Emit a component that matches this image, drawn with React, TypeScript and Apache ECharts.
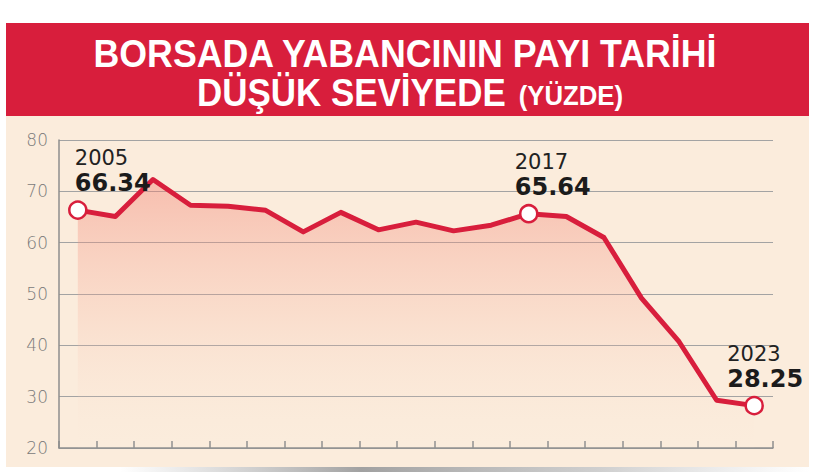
import React, { useEffect, useRef } from "react";
import * as echarts from "echarts";

const years = [
  "2005", "2006", "2007", "2008", "2009", "2010", "2011", "2012", "2013", "2014",
  "2015", "2016", "2017", "2018", "2019", "2020", "2021", "2022", "2023",
];
const foreignShare = [
  66.34, 65.1, 72.3, 67.3, 67.1, 66.3, 62.1, 65.9, 62.5, 64.0,
  62.3, 63.4, 65.64, 65.1, 61.0, 49.2, 40.7, 29.3, 28.25,
];
const highlightedYears = ["2005", "2017", "2023"];
const labelShift: Record<string, number> = { "2005": -3, "2017": -14, "2023": -27 };
const yMin = 20;
const yMax = 80;
const yStep = 10;
const titleLine1 = "BORSADA YABANCININ PAYI TARİHİ";
const titleLine2 = "DÜŞÜK SEVİYEDE";
const titleUnit = "(YÜZDE)";

const RED = "#d81e3c";
const BEIGE = "#fbecdc";
const TITLE_FONT = "'Liberation Sans', Arial, sans-serif";

export default function App() {
  const ref = useRef<HTMLDivElement>(null);

  useEffect(() => {
    if (!ref.current) return;
    const chart = echarts.init(ref.current, undefined, { renderer: "svg" });

    const data = years.map((y, i) => {
      const v = foreignShare[i];
      if (highlightedYears.includes(y)) {
        return {
          value: v,
          symbol: "circle",
          symbolSize: 17,
          label: {
            show: true,
            offset: [labelShift[y] ?? 0, 0],
            formatter: () => `{y|${y}}\n{v|${v.toFixed(2)}}`,
          },
        };
      }
      return { value: v };
    });

    chart.setOption({
      animation: false,
      grid: { left: 59, right: 47, top: 140, bottom: 27, containLabel: false },
      xAxis: {
        type: "category",
        data: years,
        boundaryGap: true,
        axisLine: { show: true, lineStyle: { color: "#8e8e8e", width: 1.5 } },
        axisTick: {
          show: true,
          inside: true,
          length: 7,
          interval: 0,
          alignWithLabel: false,
          lineStyle: { color: "#8e8e8e", width: 1.5 },
        },
        axisLabel: { show: false },
        splitLine: { show: false },
      },
      yAxis: {
        type: "value",
        min: yMin,
        max: yMax,
        interval: yStep,
        axisLine: { show: true, lineStyle: { color: "#8e8e8e", width: 1.5 } },
        axisTick: { show: false },
        axisLabel: {
          color: "#7a7a7a",
          fontSize: 17,
          fontFamily: "'DejaVu Sans', sans-serif",
          fontWeight: 200,
          margin: 11,
          padding: [6, 0, 0, 0],
        },
        splitLine: { show: true, lineStyle: { color: "#a3a3a3", width: 1 } },
      },
      series: [
        {
          type: "line",
          data,
          symbol: "none",
          showAllSymbol: true,
          z: 3,
          lineStyle: { color: RED, width: 5, cap: "round", join: "round" },
          itemStyle: { color: "#ffffff", borderColor: RED, borderWidth: 2.5 },
          areaStyle: {
            color: new echarts.graphic.LinearGradient(0, 0, 0, 1, [
              { offset: 0, color: "rgba(242,125,110,0.6)" },
              { offset: 0.5, color: "rgba(246,170,150,0.32)" },
              { offset: 1, color: "rgba(251,236,220,0.05)" },
            ]),
          },
          label: {
            show: false,
            position: "top",
            distance: 4,
            align: "left",
            verticalAlign: "bottom",
            rich: {
              y: {
                fontSize: 21,
                lineHeight: 24,
                color: "#222222",
                fontFamily: "'DejaVu Sans', sans-serif",
              },
              v: {
                fontSize: 24,
                lineHeight: 26,
                fontWeight: "bold",
                color: "#1b1b1b",
                fontFamily: "'DejaVu Sans', sans-serif",
              },
            },
          },
          emphasis: { disabled: true },
        },
      ],
      graphic: [
        {
          type: "rect",
          z: -10,
          shape: { x: 6, y: 116, width: 803, height: 351 },
          style: { fill: BEIGE },
          silent: true,
        },
        {
          type: "rect",
          z: -10,
          shape: { x: 120, y: 467, width: 690, height: 5 },
          style: {
            fill: new echarts.graphic.LinearGradient(0, 0, 1, 0, [
              { offset: 0, color: "rgba(150,150,150,0)" },
              { offset: 0.35, color: "rgba(130,130,130,0.75)" },
              { offset: 0.7, color: "rgba(150,150,150,0.45)" },
              { offset: 1, color: "rgba(170,170,170,0)" },
            ]),
          },
          silent: true,
        },
        {
          type: "rect",
          z: -9,
          shape: { x: 6, y: 23, width: 803, height: 93 },
          style: { fill: RED },
          silent: true,
        },
        {
          type: "text",
          z: 10,
          x: 405,
          y: 54,
          scaleX: 0.94,
          style: {
            text: titleLine1,
            fill: "#ffffff",
            font: `bold 38px ${TITLE_FONT}`,
            textAlign: "center",
            textVerticalAlign: "middle",
          },
          silent: true,
        },
        {
          type: "text",
          z: 10,
          x: 410,
          y: 93,
          scaleX: 0.92,
          style: {
            text: `{a|${titleLine2}}{b|${titleUnit}}`,
            fill: "#ffffff",
            textAlign: "center",
            textVerticalAlign: "middle",
            rich: {
              a: {
                fontSize: 38,
                fontWeight: "bold",
                fontFamily: TITLE_FONT,
                color: "#ffffff",
                verticalAlign: "bottom",
              },
              b: {
                fontSize: 28,
                fontWeight: "bold",
                fontFamily: TITLE_FONT,
                color: "#ffffff",
                verticalAlign: "bottom",
                padding: [0, 0, 2, 14],
              },
            },
          },
          silent: true,
        },
      ],
    });

    return () => chart.dispose();
  }, []);

  return (
    <div
      ref={ref}
      style={{ position: "fixed", left: 0, top: 0, width: 820, height: 475, background: "#ffffff" }}
    />
  );
}
